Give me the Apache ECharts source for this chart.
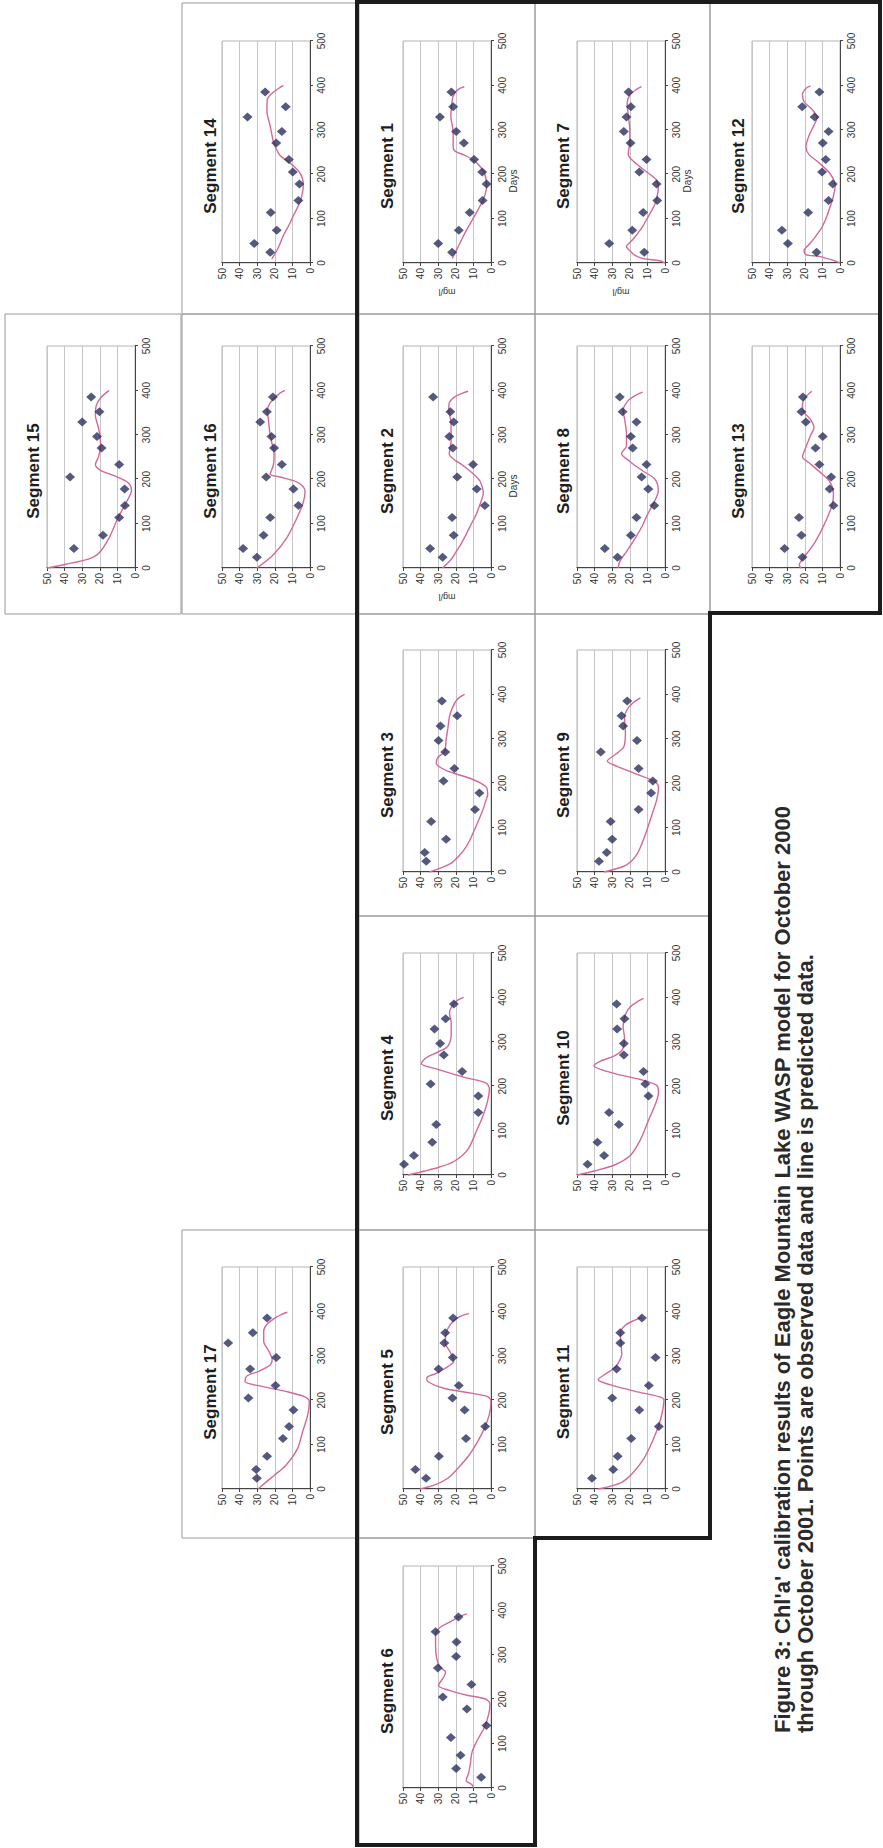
<!DOCTYPE html>
<html>
<head>
<meta charset="utf-8">
<script src="https://cdn.jsdelivr.net/npm/echarts@6/dist/echarts.min.js"></script>
<style>
html,body{margin:0;padding:0;background:#fff;overflow:hidden;width:883px;height:1848px;}
#wrap{position:absolute;left:0;top:0;width:1848px;height:883px;transform-origin:0 0;transform:translate(0px,1848px) rotate(-90deg);}
#chart{width:1848px;height:883px;}
</style>
</head>
<body>
<div id="wrap"><div id="chart"></div></div>
<script>
// ---------------- DATA ----------------
const xTicks = [0, 100, 200, 300, 400, 500];
const yTicks = [0, 10, 20, 30, 40, 50];
const obsDays = [24, 44, 74, 114, 141, 178, 205, 233, 270, 296, 329, 352, 385];

const obs1  = [22.1, 30, 18.3, 12.1, 4.8, 2.5, 5, 9.6, 15.4, 19.8, 29, 21.5, 22.5];
const obs2  = [27.5, 34.6, 21.2, 22.1, 3.5, 8.1, 19.2, 10.2, 21.7, 23.7, 21.2, 23.1, 32.9];
const obs3  = [36.8, 37.7, 25.5, 34, 9.1, 6.6, 27, 20.8, 26, 29.8, 28.7, 19.2, 27.9];
const obs4  = [49.4, 43.8, 33.4, 31.1, 7.2, 7.2, 34.3, 16.4, 26.8, 28.9, 32.1, 25.8, 21.1];
const obs5  = [36.9, 43, 29.6, 14.2, 3.3, 15, 21.9, 18.3, 29.8, 21.7, 26.5, 26, 21.5];
const obs6  = [5.6, 19.8, 17.3, 22.8, 2.6, 13.7, 27.4, 11.1, 30.2, 19.8, 19.6, 31.5, 18.5];
const obs7  = [11.8, 31.7, 18.6, 12.4, 4.4, 4.8, 14.6, 10.5, 19.6, 23.4, 21.9, 19.4, 20.7];
const obs8  = [27, 34.2, 19.4, 16.2, 6.1, 9.5, 13.3, 10.5, 18.4, 19.4, 16.2, 24.1, 25.7];
const obs9  = [37.5, 33.1, 30, 30.9, 15, 7.9, 6.9, 15, 36.5, 15.9, 23.8, 24.7, 21.5];
const obs10 = [44, 34.6, 38.4, 26.2, 31.8, 9.4, 11.2, 12.2, 23.4, 23.4, 27.2, 23, 27.5];
const obs11 = [41.5, 29.4, 26.9, 19.2, 3.5, 14.6, 30, 9.2, 27.5, 5.4, 25.4, 25.4, 13.1];
const obs12 = [13.3, 29.6, 33, 18.1, 6.5, 4.1, 10.2, 8.1, 9.8, 6.5, 14.4, 21.5, 11.7];
const obs13 = [21.3, 31.5, 21.9, 23.3, 3.7, 5.9, 5, 11.7, 13.9, 9.8, 19.4, 21.9, 21.1];
const obs14 = [22.6, 31.7, 18.9, 22.3, 6.6, 6, 9.8, 12, 19.2, 16, 35.5, 13.8, 25.5];
const obs15 = [null, 34.7, 18.2, 9, 5.7, 5.9, 36.9, 9, 19, 21.6, 30, 20.2, 24.9];
const obs16 = [30.2, 38, 26.4, 22.6, 6.6, 9.4, 24.9, 16, 20.4, 21.9, 28.3, 24.5, 21.1];
const obs17 = [30.2, 30.6, 24.4, 15.4, 11.9, 9.4, 35, 19.6, 34, 19.2, 46.5, 32.5, 24.4];

const pred1  = [[10,22],[30,19.5],[50,17],[70,14.5],[105,9.5],[143,4.4],[173,2.5],[203,3.8],[226,8.2],[241,14],[252,20.5],[263,21.5],[293,21.5],[331,22.8],[353,22.4],[376,21.5],[391,18.6],[397,15.2]];
const pred2  = [[0,27.5],[19,22.7],[37,19.8],[55,16.9],[77,14],[99,11.2],[120,8.5],[143,6.3],[169,4.4],[196,6.3],[210,9.5],[222,13],[234,17],[244,20.8],[257,23.7],[284,22.7],[328,22.7],[354,24],[372,23.7],[385,20.8],[394,16],[398,13]];
const pred3  = [[0,34.9],[10,28],[20,22.6],[35,18.5],[51,15.1],[72,12],[95,9.4],[117,7],[139,4.7],[160,3],[174,1.9],[192,2.8],[210,11.3],[227,24.5],[245,31.1],[258,30.2],[271,26.4],[298,25.5],[324,24.5],[350,23.6],[372,21.7],[390,18.9],[400,15]];
const pred4  = [[0,47.2],[9,37.7],[18,29.2],[31,20.8],[57,13.2],[97,8.5],[132,4.7],[167,1.9],[194,0.9],[207,2.8],[220,15.1],[238,30.2],[251,39.6],[264,36.8],[277,30.2],[290,24.5],[317,22.6],[343,22.6],[365,23.6],[383,21.7],[394,18.9],[400,15.5]];
const pred5  = [[0,40.4],[8,32.7],[23,25],[45,19.2],[76,12.5],[106,7.7],[136,3.8],[167,1],[197,0],[208,1.9],[216,11.5],[227,26.9],[241,35.6],[250,36.5],[261,30.8],[277,24],[288,21.2],[307,23],[330,26],[352,25.4],[371,23],[385,19.2],[392,15.4],[395,12.5]];
const pred6  = [[0,9.7],[7,10.7],[17,14.1],[34,12.7],[56,11.7],[82,10.7],[108,7.7],[138,3.6],[168,1.2],[190,0.6],[201,3.6],[209,13.7],[220,23.8],[231,29.8],[250,26.8],[261,25.8],[272,28.8],[291,30.8],[321,31.5],[347,31.5],[362,28.8],[373,23.8],[382,19.8],[388,16.7],[392,13.7]];
const pred7  = [[0,0],[5,3],[10,12.4],[17,17],[24,19],[37,21.9],[50,19],[63,16.2],[80,13],[98,10.5],[115,8],[133,5.7],[150,4.5],[168,3.8],[185,4.5],[194,6.7],[211,12.4],[233,19],[245,20.9],[273,20],[299,20],[334,20.9],[360,21.5],[378,20],[391,16.2],[397,13.3]];
const pred8  = [[0,26.6],[15,25.7],[37,21.9],[72,16.2],[94,13],[116,10.5],[135,8],[152,5.7],[174,3.8],[200,5.7],[218,12.4],[240,20],[258,24.7],[275,21.9],[302,21.9],[332,22.8],[355,23.8],[377,20.9],[390,16.2],[396,12.7]];
const pred9  = [[0,34.6],[13,23.4],[25,19],[40,15.9],[60,13.5],[84,11.2],[106,9.3],[128,7.5],[163,4.7],[190,3.7],[203,5.6],[220,15.9],[238,27.2],[250,32.8],[265,28.1],[282,23.4],[313,22.5],[349,23],[366,21.5],[379,18.7],[392,14]];
const pred10 = [[0,50],[9,40.3],[22,29],[44,19.7],[79,14],[123,9.4],[158,5.6],[185,3.7],[202,4.7],[215,14],[229,29],[246,40.3],[255,37.5],[268,29],[282,24.3],[308,23],[335,23.8],[361,22.5],[379,19.7],[392,15],[398,12.2]];
const pred11 = [[0,38],[6,31.3],[15,24.6],[34,18.8],[68,12.1],[106,7.3],[144,3.5],[174,1.5],[201,0.6],[208,3.5],[220,16.9],[235,31.3],[246,38],[258,34.2],[273,28.5],[284,26.5],[303,24.6],[330,25],[351,25.4],[368,22.7],[379,17.9],[386,13.1]];
const pred12 = [[0,0],[7,4.6],[15,12],[19,19.4],[28,20.4],[40,18],[55,14.8],[81,10.2],[100,8],[116,6.5],[151,3.7],[174,2.8],[201,5.6],[226,12],[244,17.6],[261,19.4],[287,17.6],[310,14.8],[327,13],[345,15.7],[363,20.4],[380,21.3],[393,19.4],[399,16.7]];
const pred13 = [[0,22.2],[7,23.1],[25,20.4],[42,17],[60,13.9],[95,9.3],[140,4.6],[166,3.7],[193,5.6],[215,11.1],[237,17.6],[250,21.3],[272,19.4],[299,16.7],[316,14.8],[334,16.7],[352,20.7],[369,21.3],[385,19.5],[398,16]];
const pred14 = [[9,21.7],[35,18],[63,15],[85,12],[107,9.4],[130,6.5],[150,4.7],[177,3.8],[203,5.7],[225,11.3],[242,17],[260,19.5],[273,20.8],[308,22.6],[343,24.5],[369,24.2],[382,21.7],[393,17.9],[400,15.1]];
const pred15 = [[0,50],[8,40],[20,26.5],[33,20.6],[68,14.7],[112,9.8],[148,4.9],[175,2],[192,3.9],[208,11.8],[220,19.6],[233,22.5],[252,20.6],[278,19.6],[313,20.6],[344,22.5],[366,22],[383,19.6],[400,14.7]];
const pred16 = [[0,30.2],[30,20.8],[68,13.2],[112,7.5],[148,3.8],[174,2.8],[192,6.6],[205,17],[211,22.6],[232,20.8],[254,20.4],[298,22.6],[333,23.6],[355,24.2],[377,21.7],[394,17],[400,14.2]];
const pred17 = [[0,29.6],[11,26.3],[30,20.6],[53,13.8],[91,7.1],[129,4.2],[167,1.3],[197,0.4],[208,3.3],[220,13.8],[231,27.3],[242,36.9],[254,36],[265,29.2],[280,22.5],[292,21.5],[311,23.5],[333,26.3],[356,26.3],[371,24.4],[386,19.6],[394,15.8],[398,12.9]];

const captionLines = [
  "Figure 3: Chl'a' calibration results of Eagle Mountain Lake WASP model for October 2000",
  "through October 2001. Points are observed data and line is predicted data."
];

// ---------------- LAYOUT (landscape coordinates, page rotated) ----------------
const colX = {A:[3,310], B:[310,618], C:[618,932], D:[932,1234], E:[1234,1534], F:[1534,1845]};
const plotLeft = {A:60, B:359, C:673, D:976, E:1280, F:1585};
const rowY = [[5,181],[182,357],[359,535],[535,710],[710,880]];
const plotTop = [47, 222, 403, 577, 752];

const panels = [
  {n:15, col:'E', row:0, obs:obs15, pred:pred15},
  {n:17, col:'B', row:1, obs:obs17, pred:pred17},
  {n:16, col:'E', row:1, obs:obs16, pred:pred16},
  {n:14, col:'F', row:1, obs:obs14, pred:pred14},
  {n:6,  col:'A', row:2, obs:obs6,  pred:pred6},
  {n:5,  col:'B', row:2, obs:obs5,  pred:pred5},
  {n:4,  col:'C', row:2, obs:obs4,  pred:pred4},
  {n:3,  col:'D', row:2, obs:obs3,  pred:pred3},
  {n:2,  col:'E', row:2, obs:obs2,  pred:pred2, names:true},
  {n:1,  col:'F', row:2, obs:obs1,  pred:pred1, names:true},
  {n:11, col:'B', row:3, obs:obs11, pred:pred11},
  {n:10, col:'C', row:3, obs:obs10, pred:pred10},
  {n:9,  col:'D', row:3, obs:obs9,  pred:pred9},
  {n:8,  col:'E', row:3, obs:obs8,  pred:pred8},
  {n:7,  col:'F', row:3, obs:obs7,  pred:pred7, names:true},
  {n:13, col:'E', row:4, obs:obs13, pred:pred13},
  {n:12, col:'F', row:4, obs:obs12, pred:pred12}
];

const FONT = '"Liberation Sans", Arial, Helvetica, sans-serif';
const PW = 222, PH = 88;

const grids = [], xAxes = [], yAxes = [], series = [], elements = [];

panels.forEach((p, i) => {
  const cx = colX[p.col], ry = rowY[p.row];
  const gl = plotLeft[p.col], gt = plotTop[p.row];
  elements.push({type:'rect', silent:true, z:1,
    shape:{x:cx[0], y:ry[0], width:cx[1]-cx[0], height:ry[1]-ry[0]},
    style:{fill:'none', stroke:'#9a9a9a', lineWidth:1}});
  elements.push({type:'text', silent:true, z:5, x: gl + 97, y: ry[0] + 28,
    style:{text:'Segment ' + p.n, font:'bold 17px ' + FONT, fill:'#1e1e1e',
      align:'center', verticalAlign:'middle', textAlign:'center', textVerticalAlign:'middle'}});

  grids.push({left:gl, top:gt, width:PW, height:PH, show:true, borderColor:'#b4b4b4', borderWidth:1, backgroundColor:'transparent', containLabel:false});
  xAxes.push({
    type:'value', gridIndex:i, min:xTicks[0], max:xTicks[xTicks.length-1], interval:xTicks[1]-xTicks[0],
    axisLine:{show:true, onZero:false, lineStyle:{color:'#444', width:1}},
    axisTick:{show:true, length:3, lineStyle:{color:'#444'}},
    axisLabel:{fontSize:10, color:'#333', margin:6, fontFamily:FONT},
    splitLine:{show:false},
    name: p.names ? 'Days' : '', nameLocation:'middle', nameGap:17,
    nameTextStyle:{fontSize:10, color:'#333', fontFamily:FONT, padding:[0,58,0,0]}
  });
  yAxes.push({
    type:'value', gridIndex:i, min:yTicks[0], max:yTicks[yTicks.length-1], interval:yTicks[1]-yTicks[0],
    axisLine:{show:true, onZero:false, lineStyle:{color:'#444', width:1}},
    axisTick:{show:true, length:3, lineStyle:{color:'#444'}},
    axisLabel:{fontSize:10, color:'#333', margin:5, fontFamily:FONT},
    splitLine:{show:true, lineStyle:{color:'#c6c6c6', width:1}},
    name: p.names ? 'mg/l' : '', nameLocation:'middle', nameGap:24, nameRotate:90,
    nameTextStyle:{fontSize:9, color:'#333', fontFamily:FONT}
  });
  series.push({
    type:'line', xAxisIndex:i, yAxisIndex:i, data:p.pred, showSymbol:false, smooth:0.3,
    lineStyle:{color:'#d4689a', width:1.4}, z:3, silent:true, clip:true
  });
  const pts = [];
  obsDays.forEach((d, k) => { if (p.obs[k] != null) pts.push([d, p.obs[k]]); });
  series.push({
    type:'scatter', xAxisIndex:i, yAxisIndex:i, data:pts, symbol:'diamond', symbolSize:[9,10],
    itemStyle:{color:'#2c2f5e'}, z:4, silent:true
  });
});

// thick outline
elements.push({type:'polygon', silent:true, z:6,
  shape:{points:[[1846,357],[3,357],[3,535],[310,535],[310,710],[1235,710],[1235,880],[1846,880]]},
  style:{fill:'none', stroke:'#1c1c1c', lineWidth:4}});

// caption
elements.push({type:'text', silent:true, z:5, x:115, y:782,
  style:{text:captionLines[0], font:'bold 22px ' + FONT, fill:'#2a2a2a', align:'left', verticalAlign:'middle', textAlign:'left', textVerticalAlign:'middle'}});
elements.push({type:'text', silent:true, z:5, x:115, y:805,
  style:{text:captionLines[1], font:'bold 22px ' + FONT, fill:'#2a2a2a', align:'left', verticalAlign:'middle', textAlign:'left', textVerticalAlign:'middle'}});

const chart = echarts.init(document.getElementById('chart'), null, {renderer:'svg', width:1848, height:883});
chart.setOption({
  animation:false,
  backgroundColor:'#ffffff',
  grid:grids, xAxis:xAxes, yAxis:yAxes, series:series,
  graphic:{elements:elements}
});
</script>
</body>
</html>
